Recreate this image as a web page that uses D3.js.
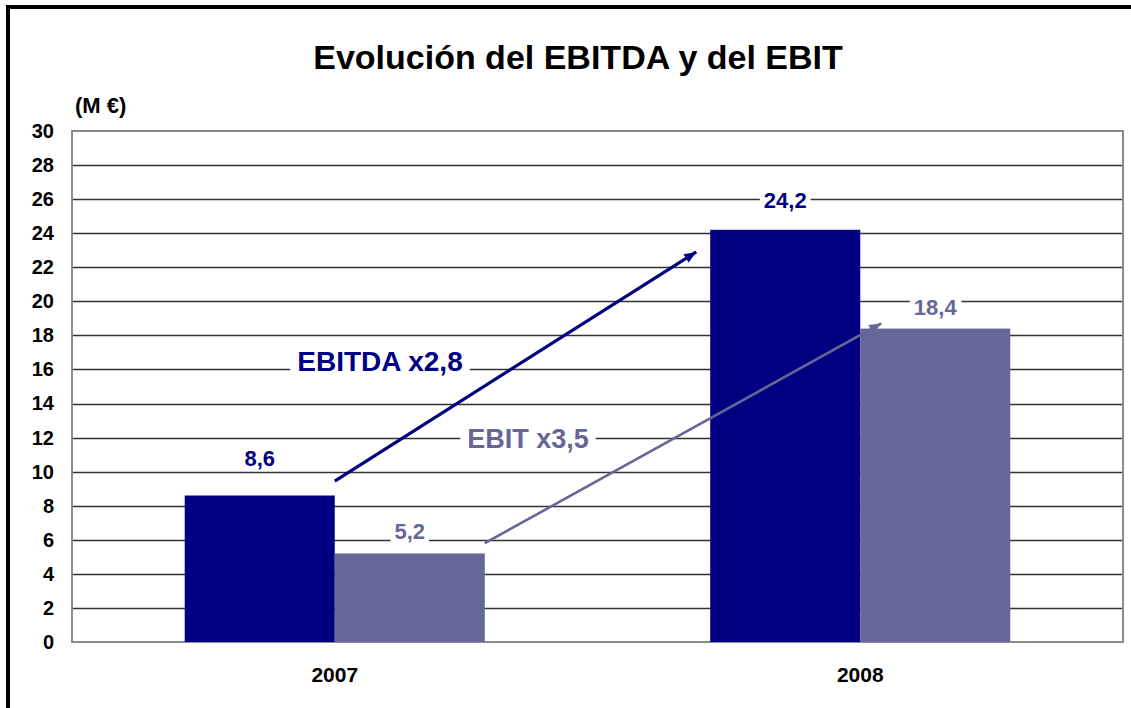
<!DOCTYPE html>
<html>
<head>
<meta charset="utf-8">
<script src="https://cdn.jsdelivr.net/npm/d3@7"></script>
<style>
  body { margin: 0; background: #fff; }
  svg { display: block; font-family: "Liberation Sans", Arial, sans-serif; font-weight: bold; }
</style>
</head>
<body>
<svg width="1131" height="708"></svg>
<script>
// Data
const categories = ["2007", "2008"];
const seriesNames = ["EBITDA", "EBIT"];
const ebitda = [8.6, 24.2];
const ebit = [5.2, 18.4];
const yTicks = [0, 2, 4, 6, 8, 10, 12, 14, 16, 18, 20, 22, 24, 26, 28, 30];
const growthLabels = ["EBITDA x2,8", "EBIT x3,5"];
const arrowFrom = [9.45, 5.8];   // value at arrow tail
const arrowTo = [22.9, 18.7];    // value at arrow head

const colors = { EBITDA: "#000080", EBIT: "#666699" };

const svg = d3.select("svg");

// outer frame (runs off the right and bottom edge)
svg.append("rect")
    .attr("x", 8).attr("y", 7)
    .attr("width", 1300).attr("height", 900)
    .attr("fill", "none")
    .attr("stroke", "#000")
    .attr("stroke-width", 4);

const plot = { left: 72, right: 1123, top: 131, bottom: 642 };

const x0 = d3.scaleBand()
    .domain(categories)
    .range([plot.left, plot.right])
    .paddingInner(0.429)
    .paddingOuter(0.2145);

const x1 = d3.scaleBand()
    .domain(seriesNames)
    .range([0, x0.bandwidth()]);

const y = d3.scaleLinear()
    .domain([0, 30])
    .range([plot.bottom, plot.top]);

const fmt = d3.formatLocale({ decimal: ",", thousands: ".", grouping: [3], currency: ["", "€"] }).format(".1f");

// title + unit
svg.append("text")
    .attr("x", 578).attr("y", 69)
    .attr("text-anchor", "middle")
    .attr("font-size", 34)
    .text("Evolución del EBITDA y del EBIT");

svg.append("text")
    .attr("x", 75).attr("y", 113)
    .attr("font-size", 22)
    .text("(M €)");

// gridlines
svg.append("g")
    .selectAll("line")
    .data(yTicks.filter(d => d > 0 && d < 30))
    .enter().append("line")
    .attr("x1", plot.left).attr("x2", plot.right)
    .attr("y1", d => Math.round(y(d)) + 0.5)
    .attr("y2", d => Math.round(y(d)) + 0.5)
    .attr("stroke", "#333")
    .attr("stroke-width", 1.3);

// plot border
svg.append("rect")
    .attr("x", plot.left).attr("y", plot.top)
    .attr("width", plot.right - plot.left)
    .attr("height", plot.bottom - plot.top)
    .attr("fill", "none")
    .attr("stroke", "#8c8c8c")
    .attr("stroke-width", 2);

// y axis labels
const yAxis = svg.append("g")
    .attr("transform", `translate(${plot.left},0)`)
    .call(d3.axisLeft(y).tickValues(yTicks).tickSize(0).tickPadding(18));
yAxis.select(".domain").remove();
yAxis.selectAll("text")
    .attr("font-family", "Liberation Sans, Arial, sans-serif")
    .attr("font-size", 20)
    .attr("font-weight", "bold")
    .attr("fill", "#000");

// x axis labels
const xAxis = svg.append("g")
    .attr("transform", `translate(0,${plot.bottom})`)
    .call(d3.axisBottom(x0).tickSize(0).tickPadding(25));
xAxis.select(".domain").remove();
xAxis.selectAll("text")
    .attr("font-family", "Liberation Sans, Arial, sans-serif")
    .attr("font-size", 21)
    .attr("font-weight", "bold")
    .attr("fill", "#000");

// bars
const rows = categories.map((c, i) => ({ cat: c, values: [ebitda[i], ebit[i]] }));

const group = svg.append("g")
    .selectAll("g")
    .data(rows)
    .enter().append("g")
    .attr("transform", d => `translate(${x0(d.cat)},0)`);

group.selectAll("rect")
    .data(d => d.values.map((v, j) => ({ name: seriesNames[j], value: v })))
    .enter().append("rect")
    .attr("x", d => x1(d.name))
    .attr("y", d => y(d.value))
    .attr("width", x1.bandwidth())
    .attr("height", d => y(0) - y(d.value))
    .attr("fill", d => colors[d.name]);

// growth arrows
const defs = svg.append("defs");
seriesNames.forEach(name => {
    defs.append("marker")
        .attr("id", "head-" + name)
        .attr("viewBox", "0 0 12 10")
        .attr("refX", 12).attr("refY", 5)
        .attr("markerWidth", 13).attr("markerHeight", 10)
        .attr("markerUnits", "userSpaceOnUse")
        .attr("orient", "auto")
        .append("path")
        .attr("d", "M0,0 L12,5 L0,10 Z")
        .attr("fill", colors[name]);
});

const arrows = [
    { name: "EBITDA",
      x1: x0(categories[0]) + x1("EBITDA") + x1.bandwidth(), x2: x0(categories[1]) - 14,
      w: 3.2 },
    { name: "EBIT",
      x1: x0(categories[0]) + x1("EBIT") + x1.bandwidth(), x2: x0(categories[1]) + x1("EBIT") + 21,
      w: 2.6 }
];

svg.append("g")
    .selectAll("line")
    .data(arrows)
    .enter().append("line")
    .attr("x1", d => d.x1)
    .attr("y1", (d, i) => y(arrowFrom[i]))
    .attr("x2", d => d.x2)
    .attr("y2", (d, i) => y(arrowTo[i]))
    .attr("stroke", d => colors[d.name])
    .attr("stroke-width", d => d.w)
    .attr("marker-end", d => `url(#head-${d.name})`);

// text with a white box behind it
function boxedText(parent, x, yPos, str, size, color, padX, padY) {
    const g = parent.append("g");
    const t = g.append("text")
        .attr("x", x).attr("y", yPos)
        .attr("text-anchor", "middle")
        .attr("font-size", size)
        .attr("fill", color)
        .text(str);
    const b = t.node().getBBox();
    g.insert("rect", "text")
        .attr("x", b.x - padX).attr("y", b.y - padY)
        .attr("width", b.width + 2 * padX)
        .attr("height", b.height + 2 * padY)
        .attr("fill", "#fff");
}

// value labels, lifted by hand as in the original
const labelLift = [[30, 22], [14, 14]];
const labels = svg.append("g");
seriesNames.forEach((name, j) => {
    const vals = j === 0 ? ebitda : ebit;
    categories.forEach((c, i) => {
        const cx = x0(c) + x1(name) + x1.bandwidth() / 2;
        boxedText(labels, cx, y(vals[i]) - labelLift[j][i], fmt(vals[i]), 22, colors[name], 4, 0);
    });
});

// growth labels
boxedText(labels, 380, y(16) + 2, growthLabels[0], 28, colors.EBITDA, 7, 0);
boxedText(labels, 528, y(12) + 10, growthLabels[1], 27, colors.EBIT, 7, 0);
</script>
</body>
</html>
